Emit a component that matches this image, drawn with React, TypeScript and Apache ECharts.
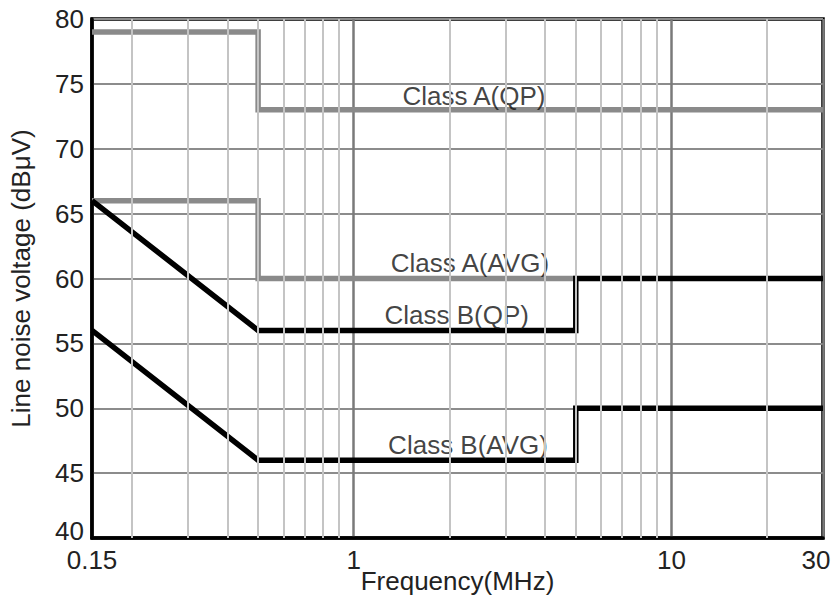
import React, { useEffect, useRef } from "react";
import * as echarts from "echarts";

const classAQP: [number, number][] = [[0.15, 79], [0.5, 79], [0.5, 73], [30, 73]];
const classAAVG: [number, number][] = [[0.15, 66], [0.5, 66], [0.5, 60], [5, 60]];
const classBQP: [number, number][] = [[0.15, 66], [0.5, 56], [5, 56], [5, 60], [30, 60]];
const classBAVG: [number, number][] = [[0.15, 56], [0.5, 46], [5, 46], [5, 50], [30, 50]];
const minorGridFreqs = [0.2, 0.3, 0.4, 0.5, 0.6, 0.7, 0.8, 0.9, 2, 3, 4, 5, 6, 7, 8, 9, 20];
const labels: { text: string; coord: [number, number] }[] = [
  { text: "Class A(QP)", coord: [2.39, 74.1] },
  { text: "Class A(AVG)", coord: [2.32, 61.2] },
  { text: "Class B(QP)", coord: [2.11, 57.2] },
  { text: "Class B(AVG)", coord: [2.29, 47.2] },
];

const FONT = "'Liberation Sans', Arial, sans-serif";
const TXT = { fontFamily: FONT, fontSize: 26, color: "#222" };

export default function App() {
  const ref = useRef<HTMLDivElement>(null);
  useEffect(() => {
    const chart = echarts.init(ref.current!, null, { renderer: "svg" });
    const lineSeries = (name: string, data: [number, number][], color: string) => ({
      name,
      type: "line",
      data,
      showSymbol: false,
      symbol: "none",
      z: 3,
      lineStyle: { color, width: 5.5, cap: "butt", join: "miter" },
    });
    chart.setOption({
      animation: false,
      grid: {
        left: 92,
        right: 10,
        top: 19,
        bottom: 61,
        outerBoundsMode: "none",
        containLabel: false,
        show: true,
        borderColor: "#000",
        borderWidth: 3.5,
      },
      xAxis: {
        type: "log",
        logBase: 10,
        min: 0.15,
        max: 30,
        name: "Frequency(MHz)",
        nameLocation: "middle",
        nameGap: 30,
        nameMoveOverlap: false,
        nameTextStyle: TXT,
        axisLine: { show: true, lineStyle: { color: "#000", width: 3.5 } },
        axisTick: { show: false },
        axisLabel: {
          ...TXT,
          margin: 9,
          showMinLabel: true,
          showMaxLabel: true,
          formatter: (v: number) => {
            const s = String(+Number(v).toPrecision(3));
            return Number(v) >= 29.9 ? "{m|" + s + "}" : s;
          },
          rich: { m: { ...TXT, padding: [0, 14, 0, 0] } },
        },
        splitLine: { show: true, lineStyle: { color: "#7a7a7a", width: 2.5 } },
      },
      yAxis: {
        type: "value",
        min: 40,
        max: 80,
        interval: 5,
        name: "Line noise voltage (dBμV)",
        nameLocation: "middle",
        nameGap: 58,
        nameMoveOverlap: false,
        nameTextStyle: TXT,
        axisLine: { show: true, lineStyle: { color: "#000", width: 3.5 } },
        axisTick: { show: false },
        axisLabel: {
          ...TXT,
          margin: 8,
          formatter: (v: number) => (v === 40 ? "{s|40}" : String(v)),
          rich: { s: { ...TXT, padding: [0, 0, 14, 0] } },
        },
        splitLine: { show: true, lineStyle: { color: "#8c8c8c", width: 2 } },
      },
      series: [
        {
          name: "grid",
          type: "line",
          data: [],
          z: 1,
          silent: true,
          markLine: {
            silent: true,
            symbol: ["none", "none"],
            label: { show: false },
            lineStyle: { color: "#c4c4c4", width: 2, type: "solid" },
            data: minorGridFreqs.map((f) => ({ xAxis: f })),
          },
        },
        lineSeries("Class A(QP)", classAQP, "#8a8a8a"),
        lineSeries("Class A(AVG)", classAAVG, "#8a8a8a"),
        lineSeries("Class B(QP)", classBQP, "#000"),
        lineSeries("Class B(AVG)", classBAVG, "#000"),
        {
          name: "labels",
          type: "scatter",
          data: labels.map((l) => ({ value: l.coord, name: l.text })),
          symbolSize: 0,
          z: 4,
          silent: true,
          label: {
            show: true,
            position: "inside",
            formatter: (p: any) => p.name,
            fontFamily: FONT,
            fontSize: 26,
            color: "#111",
          },
        },
      ],
    });
    return () => chart.dispose();
  }, []);
  return (
    <div
      ref={ref}
      style={{ position: "fixed", left: 0, top: 0, width: 833, height: 599, background: "#fff" }}
    />
  );
}
